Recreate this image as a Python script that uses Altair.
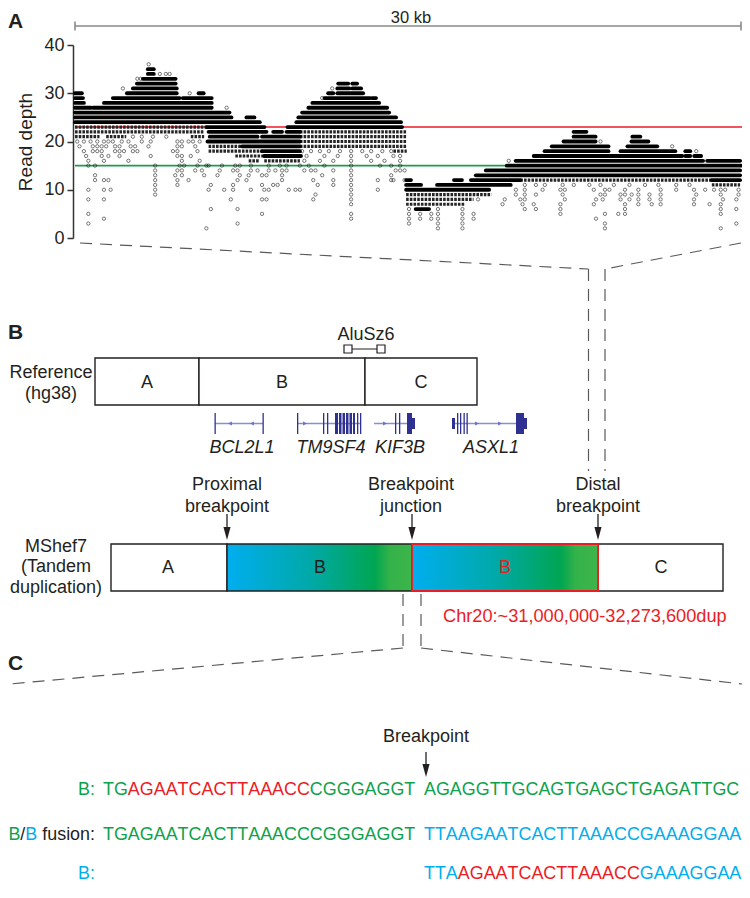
import altair as alt
import pandas as pd

# ======================= DATA =======================
# ---- Panel A: read depth over the 30 kb window ----
WINDOW_KB = 30
DEPTH_TICKS = [0, 10, 20, 30, 40]
THRESHOLD_DEPTHS = [23, 15]

# tightly packed reads at one depth: (depth, start kb, end kb)
SOLID_RUNS = [
    (35, 3.27, 3.54), (34, 3.27, 3.54), (33, 3.05, 4.52), (32, 2.78, 4.52), (31, 2.60, 4.57),
    (30, 0.0, 0.31), (30, 2.33, 4.57), (30, 5.55, 5.78),
    (29, 0.0, 0.36), (29, 1.70, 4.70), (29, 4.84, 6.14),
    (28, 0.0, 0.40), (28, 1.30, 6.14),
    (27, 0.0, 0.72), (27, 0.81, 6.14),
    (26, 0.0, 6.94), (25, 0.0, 7.03), (25, 7.70, 8.06), (24, 0.0, 8.30),
    (23, 5.91, 8.51), (22, 6.0, 8.6), (22, 8.9, 9.3), (22, 9.5, 10.1),
    (21, 6.05, 8.2), (21, 8.4, 10.1), (20, 5.95, 10.1), (19, 7.5, 10.1), (18, 8.4, 10.1),
    (17, 8.5, 10.15),
    (32, 11.82, 12.27), (32, 12.45, 12.67), (31, 11.78, 12.32), (31, 12.45, 12.85),
    (30, 11.37, 11.60), (30, 11.78, 12.94), (29, 11.20, 13.26), (29, 13.35, 13.52),
    (28, 10.66, 13.66), (27, 10.48, 14.02), (26, 10.20, 14.11), (25, 10.03, 14.42),
    (24, 9.94, 14.64), (23, 9.54, 14.69),
    (22, 22.39, 22.97), (21, 22.39, 23.38), (21, 25.03, 25.39), (20, 21.94, 23.38),
    (20, 24.99, 25.75), (19, 21.41, 23.96), (19, 24.81, 26.15), (18, 21.09, 23.96),
    (18, 24.50, 26.96), (18, 27.41, 27.63), (17, 20.60, 27.27), (17, 27.41, 27.63),
    (17, 27.81, 28.12), (16, 19.79, 28.21), (16, 28.39, 29.87), (15, 19.39, 29.91),
    (14, 18.45, 29.87), (13, 18.00, 29.87),
    (12, 14.87, 15.09), (12, 17.02, 17.38), (12, 17.78, 20.00), (12, 28.60, 29.87),
    (11, 14.87, 15.54), (11, 16.26, 19.57), (10, 14.87, 18.60), (6, 15.3, 15.9),
]
# loosely packed reads at one depth: (depth, start kb, end kb)
MIXED_RUNS = [
    (23, 0.0, 5.9), (22, 0.0, 5.8), (21, 0.0, 1.1), (21, 1.4, 2.3), (21, 5.2, 5.8),
    (19, 6.0, 7.5), (18, 6.0, 8.4), (17, 7.2, 8.5), (16, 7.8, 8.3), (16, 8.5, 10.1),
    (22, 10.1, 14.9), (21, 10.1, 14.9), (20, 10.1, 14.9), (19, 10.1, 14.9), (18, 14.3, 14.9),
    (12, 20.0, 28.6), (11, 28.6, 29.87), (9, 14.87, 18.7), (8, 14.87, 17.9), (7, 14.87, 17.5),
]
# isolated reads: depth -> positions (kb)
SPARSE_READS = {
    36: [3.31],
    34: [3.81, 4.08, 4.25],
    33: [2.80, 2.95],
    31: [2.15, 11.55],
    30: [5.15],
    29: [11.10],
    27: [6.81],
    21: [2.6, 3.0, 3.5, 4.1],
    20: [0.1, 0.4, 0.7, 1.0, 1.3, 1.5, 1.7, 2.1, 2.4, 3.0, 3.4, 4.6, 4.8, 5.1, 5.3, 5.6, 23.6],
    19: [0.2, 0.8, 1.0, 1.2, 1.4, 1.8, 2.0, 2.5, 2.7, 3.3, 4.6, 4.8, 5.4, 26.82],
    18: [0.4, 0.8, 1.0, 1.2, 1.8, 2.0, 2.2, 2.6, 2.8, 4.4, 4.6, 5.5,
         10.2, 10.6, 11.0, 11.4, 11.9, 12.4, 12.9, 13.3, 13.8, 14.2, 27.9],
    17: [0.5, 1.2, 1.5, 2.0, 3.4, 4.6, 4.8, 5.2, 10.4, 11.2, 11.8, 12.4, 13.1, 13.6, 14.3, 14.6],
    16: [0.6, 1.3, 2.4, 4.8, 5.6, 10.3, 11.0, 11.6, 12.4, 13.3, 13.9, 14.6, 19.48],
    15: [0.6, 0.9, 3.6, 4.7, 4.9, 5.5, 5.9, 6.0, 6.6, 7.2, 7.4, 7.9, 8.7, 9.2, 9.5,
         10.1, 10.5, 11.2, 12.4, 13.7, 14.2, 14.6],
    14: [3.6, 4.6, 4.8, 5.4, 5.7, 6.5, 7.1, 7.3, 7.9, 8.2, 8.7, 9.0, 9.3, 9.5, 10.3, 10.6,
         10.8, 11.6, 12.4, 14.4, 14.6, 14.8],
    13: [0.9, 3.6, 4.5, 4.8, 5.8, 6.4, 7.4, 7.8, 8.4, 8.6, 9.3, 11.1, 12.4, 14.2],
    12: [0.9, 1.3, 1.5, 3.6, 4.6, 5.1, 7.3, 7.7, 9.3, 10.7, 11.6, 12.4, 13.6, 14.2, 14.3, 14.8],
    11: [3.6, 4.6, 6.1, 7.1, 8.4, 8.9, 9.1, 10.9, 11.6, 12.4,
         20.2, 20.7, 21.1, 21.9, 22.4, 23.1, 23.6, 24.2, 24.9, 25.6, 26.2, 27.0, 27.6],
    10: [0.6, 1.3, 1.6, 3.6, 6.0, 6.7, 7.1, 7.9, 8.5, 8.7, 9.6, 9.9, 10.1, 12.4, 13.6,
         19.8, 20.2, 21.0, 21.8, 22.0, 23.3, 23.8, 24.0, 24.7, 25.3, 26.3, 27.0, 27.8, 28.3,
         28.7, 29.0, 29.2, 29.8],
    9: [3.6, 10.8, 12.4, 19.8, 20.2, 20.7, 21.9, 23.6, 23.8, 24.5, 24.7, 25.0, 25.3, 25.8,
        26.3, 27.9, 29.0, 29.8],
    8: [0.6, 1.3, 7.0, 8.4, 8.6, 10.7, 12.4, 18.1, 19.3, 20.0, 20.2, 22.0, 23.4, 23.7, 24.5,
        24.9, 25.3, 25.8, 26.3, 27.8, 29.1, 29.7],
    7: [12.4, 19.2, 20.1, 20.6, 21.8, 23.3, 24.7, 25.3, 25.9, 26.3, 27.8, 28.5, 29.0],
    6: [6.1, 7.3, 15.0, 16.3, 17.4, 20.2, 20.7, 21.8, 24.7, 29.0, 29.7],
    5: [0.6, 8.4, 12.4, 15.0, 15.5, 16.0, 16.3, 17.4, 17.9, 21.8, 23.8, 24.4, 24.7, 29.0],
    4: [1.3, 12.4, 15.0, 15.5, 16.0, 16.3, 17.4, 17.9, 23.4],
    3: [0.6, 7.3, 15.0, 16.3, 17.4, 23.8, 29.7],
    2: [5.9, 16.3, 17.4, 23.8, 29.0],
}

# ---- Panel B / C: text content ----
PANEL_LETTERS = ["A", "B", "C"]
SCALE_LABEL = "30 kb"
REPEAT_NAME = "AluSz6"
REF_NAME = ["Reference", "(hg38)"]
SEGMENTS = ["A", "B", "C"]
GENES = ["BCL2L1", "TM9SF4", "KIF3B", "ASXL1"]
BREAK_LABELS = [["Proximal", "breakpoint"], ["Breakpoint", "junction"], ["Distal", "breakpoint"]]
LINE_NAME = ["MShef7", "(Tandem", "duplication)"]
DUP_SEGMENTS = ["A", "B", "B", "C"]
DUP_COORDS = "Chr20:~31,000,000-32,273,600dup"
SEQ_BREAK_LABEL = "Breakpoint"
GREEN, RED, BLUE, INK = "#0DA24B", "#ED1C24", "#00AEEF", "#231F20"
SEQ_ROWS = [
    {"prefix": [("B:", GREEN)],
     "left": [("TG", GREEN), ("AGAATCACTTAAACC", RED), ("CGGGAGGT", GREEN)],
     "right": [("AGAGGTTGCAGTGAGCTGAGATTGC", GREEN)]},
    {"prefix": [("B", GREEN), ("/", INK), ("B", BLUE), (" ", INK), ("fusion:", INK)],
     "left": [("TGAGAATCACTTAAACCCGGGAGGT", GREEN)],
     "right": [("TTAAGAATCACTTAAACCGAAAGGAA", BLUE)]},
    {"prefix": [("B:", BLUE)],
     "left": [],
     "right": [("TTA", BLUE), ("AGAATCACTTAAACC", RED), ("GAAAGGAA", BLUE)]},
]

# ======================= LAYOUT (page pixels) =======================
FONT = "Liberation Sans, Arial, sans-serif"
PAD_L = 65
VIEW_W, VIEW_H = 734 - PAD_L, 876
XP = alt.Scale(domain=[73, 73 + VIEW_W], range=[0, VIEW_W])
YP = alt.Scale(domain=[8, 8 + VIEW_H], range=[0, VIEW_H])
KB = alt.Scale(domain=[0, WINDOW_KB], range=[2, 670])
DP = alt.Scale(domain=[0, 40], range=[230, 37])

ADV = {'A': 667, 'C': 722, 'G': 778, 'T': 611, 'B': 667, ':': 278, '/': 278, ' ': 278,
       'f': 278, 'u': 556, 's': 500, 'i': 222, 'o': 556, 'n': 556}
SEQ_FS = 17.9


def tw(s, fs):
    return sum(ADV[c] for c in s) / 1000 * fs


def px_xy(xf="x", yf="y"):
    return dict(x=alt.X(f"{xf}:Q", scale=XP, axis=None), y=alt.Y(f"{yf}:Q", scale=YP, axis=None))


def px_rule(df, **kw):
    return alt.Chart(df).mark_rule(**kw).encode(
        x=alt.X("x:Q", scale=XP, axis=None), x2="x2:Q",
        y=alt.Y("y:Q", scale=YP, axis=None), y2="y2:Q")


def px_rect(df, **kw):
    return alt.Chart(df).mark_rect(**kw).encode(
        x=alt.X("x:Q", scale=XP, axis=None), x2="x2:Q",
        y=alt.Y("y:Q", scale=YP, axis=None), y2="y2:Q")


def px_text(rows, **kw):
    df = pd.DataFrame(rows)
    if "color" not in df:
        df["color"] = INK
    return alt.Chart(df).mark_text(font=FONT, baseline="alphabetic", **kw).encode(
        **px_xy(), text="text:N", color=alt.Color("color:N", scale=None))


# ---------------- Panel A (read depth) ----------------
solid_df = pd.DataFrame(SOLID_RUNS, columns=["depth", "start", "end"])
mixed_df = pd.DataFrame(MIXED_RUNS, columns=["depth", "start", "end"])
sparse_df = pd.DataFrame([(kb, d) for d, kbs in SPARSE_READS.items() for kb in kbs],
                         columns=["kb", "depth"])
thr_df = pd.DataFrame({"depth": THRESHOLD_DEPTHS, "start": [0, 0], "end": [WINDOW_KB] * 2,
                       "color": [RED, "#1E9A48"]})

yaxis = alt.Axis(values=DEPTH_TICKS, orient="left", title="Read depth", grid=False,
                 labelFont=FONT, labelFontSize=18, labelColor=INK, labelPadding=3,
                 titleFont=FONT, titleFontSize=19, titleFontWeight="normal", titleColor=INK,
                 titlePadding=8, domainColor="#333333", domainWidth=1.5, tickColor="#333333",
                 tickWidth=1.5, tickSize=6)


def depth_y(field="depth"):
    return alt.Y(f"{field}:Q", scale=DP, axis=yaxis)


thr = alt.Chart(thr_df).mark_rule(strokeWidth=1.6).encode(
    x=alt.X("start:Q", scale=KB, axis=None), x2="end:Q",
    y=depth_y(), color=alt.Color("color:N", scale=None))
mixed = alt.Chart(mixed_df).mark_rule(strokeWidth=3.2, strokeDash=[2.6, 1.1], color="#262626").encode(
    x=alt.X("start:Q", scale=KB, axis=None), x2="end:Q", y=depth_y())
solid = alt.Chart(solid_df).mark_rule(strokeWidth=3.8, strokeCap="round", color="black").encode(
    x=alt.X("start:Q", scale=KB, axis=None), x2="end:Q", y=depth_y())
sparse = alt.Chart(sparse_df).mark_point(shape="circle", size=11, filled=False, color="black",
                                         strokeWidth=0.75).encode(
    x=alt.X("kb:Q", scale=KB, axis=None), y=depth_y())
depth_panel = alt.layer(thr, mixed, solid, sparse)

# ---------------- diagram layers ----------------
layers = []

# scale bar
SB_Y = 26
layers.append(px_rule(pd.DataFrame({"x": [75, 75, 741], "x2": [741, 75, 741],
                                    "y": [SB_Y, SB_Y - 4.5, SB_Y - 4.5], "y2": [SB_Y, SB_Y + 4.5, SB_Y + 4.5]}),
                      color="#8a8a8a", strokeWidth=1.6))
# dashed guide lines
dash = pd.DataFrame({"x": [80, 741, 588.5, 605, 403, 421, 403, 421],
                     "y": [243, 243, 269, 269, 594, 594, 648, 648],
                     "x2": [588.5, 605, 588.5, 605, 403, 421, 10, 742],
                     "y2": [269, 269, 471, 471, 648, 648, 684, 684]})
layers.append(px_rule(dash, color="#5a5a5a", strokeWidth=1.2, strokeDash=[12, 8]))

# reference boxes
ref_edges = [95, 199, 365, 477]
ref_df = pd.DataFrame({"x": ref_edges[:-1], "x2": ref_edges[1:], "y": [358] * 3, "y2": [405] * 3})
layers.append(px_rect(ref_df, fill="white", stroke=INK, strokeWidth=1.4))

# AluSz6 marker
layers.append(px_rule(pd.DataFrame({"x": [352], "x2": [377], "y": [349], "y2": [349]}),
                      color="#444444", strokeWidth=1.2))
layers.append(px_rect(pd.DataFrame({"x": [344, 377], "x2": [352, 385], "y": [345, 345], "y2": [353, 353]}),
                      fill="white", stroke=INK, strokeWidth=1.2))

# genes
GENE_SPAN = [(215, 263), (297, 361), (374, 415), (452, 527)]
GY = 423.5
gl = pd.DataFrame({"x": [s for s, e in GENE_SPAN], "x2": [e for s, e in GENE_SPAN],
                   "y": [GY] * 4, "y2": [GY] * 4})
layers.append(px_rule(gl, color="#8C8CD6", strokeWidth=1.4))
EXONS = [  # (x1, x2, tall?)
    (214.5, 215.8, 1), (262.5, 263.8, 1),
    (297, 298.3, 1), (323, 324.3, 1), (327, 328.3, 1), (335, 338, 1), (339, 341.5, 1),
    (342.5, 345, 1), (346, 348.5, 1), (349.5, 352, 1), (353, 355, 1), (357, 358.3, 1), (360, 361.3, 1),
    (395, 396.3, 1), (399, 400.3, 1), (407, 412, 1), (412, 415, 0),
    (452, 455, 0), (457, 458.3, 1), (460, 461.3, 1), (463.5, 464.8, 1), (466.5, 467.8, 1),
    (516, 524, 1), (524, 527, 0),
]
ex = pd.DataFrame({"x": [a for a, b, t in EXONS], "x2": [b for a, b, t in EXONS],
                   "y": [GY - (10.5 if t else 5.5) for a, b, t in EXONS],
                   "y2": [GY + (10.5 if t else 5.5) for a, b, t in EXONS]})
layers.append(px_rect(ex, color="#2E3192"))
CHEVRONS = [(230, "-"), (252, "-"), (305, "+"), (385, "+"), (477, "+"), (500, "+")]
for strand, path in [("+", "M-0.7,-0.75L0.7,0L-0.7,0.75Z"), ("-", "M0.7,-0.75L-0.7,0L0.7,0.75Z")]:
    xs = [x for x, s in CHEVRONS if s == strand]
    cdf = pd.DataFrame({"x": xs, "y": [GY] * len(xs)})
    layers.append(alt.Chart(cdf).mark_point(shape=path, filled=True, size=30, color="#6F6FC8",
                                            opacity=1).encode(**px_xy()))

# MShef7 boxes
dup_edges = [111, 227, 412, 598, 723]
grad = alt.LinearGradient(gradient="linear", x1=0, x2=1, y1=0, y2=0, stops=[
    alt.GradientStop(color="#00AEEF", offset=0), alt.GradientStop(color="#00A9A8", offset=0.45),
    alt.GradientStop(color="#00A651", offset=0.8), alt.GradientStop(color="#34B24A", offset=0.88),
    alt.GradientStop(color="#3DB54A", offset=1)])
white_df = pd.DataFrame({"x": [dup_edges[0], dup_edges[3]], "x2": [dup_edges[1], dup_edges[4]],
                         "y": [544] * 2, "y2": [591] * 2})
layers.append(px_rect(white_df, fill="white", stroke=INK, strokeWidth=1.4))
layers.append(px_rect(pd.DataFrame({"x": [dup_edges[1]], "x2": [dup_edges[2]], "y": [544], "y2": [591]}),
                      fill=grad, stroke=INK, strokeWidth=1.4))
layers.append(px_rect(pd.DataFrame({"x": [dup_edges[2]], "x2": [dup_edges[3]], "y": [544], "y2": [591]}),
                      fill=grad, stroke=RED, strokeWidth=1.8))

# down arrows
ARROWS = [(227, 514, 540), (412, 514, 540), (598, 514, 540), (426, 752, 777)]
layers.append(px_rule(pd.DataFrame({"x": [a[0] for a in ARROWS], "x2": [a[0] for a in ARROWS],
                                    "y": [a[1] for a in ARROWS], "y2": [a[2] - 8 for a in ARROWS]}),
                      color=INK, strokeWidth=1.3))
layers.append(alt.Chart(pd.DataFrame({"x": [a[0] for a in ARROWS], "y": [a[2] - 6.5 for a in ARROWS]}))
              .mark_point(shape="M-0.55,-1L0.55,-1L0,1Z", filled=True, size=169, color=INK, opacity=1)
              .encode(**px_xy()))

# ---------------- texts ----------------
layers.append(px_text([{"text": PANEL_LETTERS[0], "x": 8, "y": 28},
                       {"text": PANEL_LETTERS[1], "x": 8, "y": 339},
                       {"text": PANEL_LETTERS[2], "x": 8, "y": 670}],
                      fontSize=21, fontWeight="bold", align="left"))
layers.append(px_text([{"text": SCALE_LABEL, "x": 411, "y": 23}], fontSize=16.5, align="center"))
lab = [
    {"text": REPEAT_NAME, "x": 366, "y": 340},
    {"text": REF_NAME[0], "x": 51, "y": 378}, {"text": REF_NAME[1], "x": 51, "y": 399},
    {"text": SEGMENTS[0], "x": 147, "y": 388}, {"text": SEGMENTS[1], "x": 282, "y": 388},
    {"text": SEGMENTS[2], "x": 421, "y": 388},
]
for (l1, l2), xc in zip(BREAK_LABELS, [227, 411, 598]):
    lab += [{"text": l1, "x": xc, "y": 490}, {"text": l2, "x": xc, "y": 512}]
for t, yy in zip(LINE_NAME, [552, 572, 593]):
    lab.append({"text": t, "x": 56, "y": yy})
for t, xc, col in zip(DUP_SEGMENTS, [168, 320, 505, 661], [INK, INK, RED, INK]):
    lab.append({"text": t, "x": xc, "y": 573, "color": col})
lab.append({"text": SEQ_BREAK_LABEL, "x": 426, "y": 742})
for r in lab:
    r.setdefault("color", INK)
layers.append(px_text(lab, fontSize=18, align="center"))
layers.append(px_text([{"text": g, "x": xc, "y": 453} for g, xc in zip(GENES, [242, 331, 400, 491])],
                      fontSize=18, fontStyle="italic", align="center"))
layers.append(px_text([{"text": DUP_COORDS, "x": 443, "y": 622, "color": RED}],
                      fontSize=18.2, align="left"))

# sequences
seq_rows, pre_rows = [], []
for row, yb in zip(SEQ_ROWS, [795, 840, 879]):
    total = sum(tw(t, SEQ_FS) for t, c in row["prefix"])
    x = 95 - total
    for t, c in row["prefix"]:
        if t.strip():
            pre_rows.append({"text": t, "x": x, "y": yb, "color": c})
        x += tw(t, SEQ_FS)
    for key, x0 in [("left", 103), ("right", 424)]:
        x = x0
        for t, c in row[key]:
            for ch in t:
                seq_rows.append({"text": ch, "x": x, "y": yb, "color": c})
                x += tw(ch, SEQ_FS)
layers.append(px_text(pre_rows, fontSize=SEQ_FS, align="left"))
layers.append(px_text(seq_rows, fontSize=SEQ_FS, align="left"))

diagram = alt.layer(*layers)

chart = alt.layer(depth_panel, diagram).resolve_scale(
    x="independent", y="independent"
).properties(
    width=VIEW_W, height=VIEW_H,
    padding={"left": PAD_L, "top": 0, "right": 0, "bottom": 0},
    autosize=alt.AutoSizeParams(type="none"),
    background="white",
).configure_view(stroke=None)

chart.save("out.html", embed_options={"renderer": "svg", "actions": False})
